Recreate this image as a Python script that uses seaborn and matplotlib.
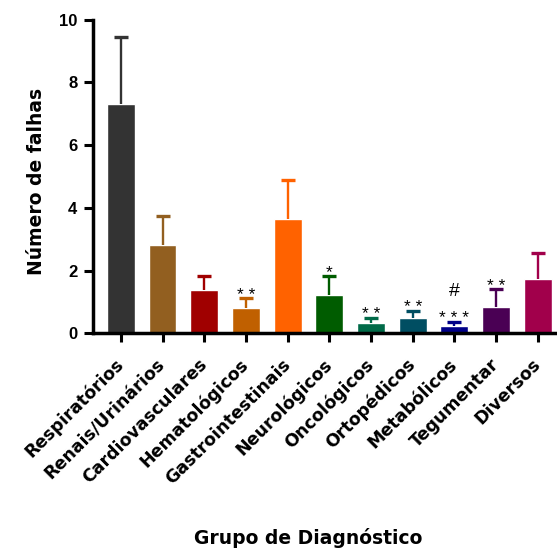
import matplotlib
matplotlib.use("Agg")
import matplotlib.pyplot as plt
import seaborn as sns
import numpy as np

# Diagnostic groups and their mean number of failures with upper SD
categories = ["Respiratórios", "Renais/Urinários", "Cardiovasculares", "Hematológicos",
              "Gastrointestinais", "Neurológicos", "Oncológicos", "Ortopédicos",
              "Metabólicos", "Tegumentar", "Diversos"]
means = [7.32, 2.80, 1.38, 0.81, 3.63, 1.22, 0.33, 0.48, 0.22, 0.85, 1.74]
sd = [2.13, 0.94, 0.44, 0.30, 1.24, 0.60, 0.16, 0.23, 0.14, 0.55, 0.82]
stars = ["", "", "", "* *", "", "*", "* *", "* *", "* * *", "* *", ""]
hashes = ["", "", "", "", "", "", "", "", "#", "", ""]
colors = ["#333333", "#925F20", "#A00000", "#C06000", "#FF6200", "#005C00",
          "#006A48", "#004E62", "#000088", "#4A0054", "#A1004B"]
yticks = [0, 2, 4, 6, 8, 10]

sns.set_style("ticks")
plt.rcParams["font.family"] = ["DejaVu Sans"]
for key in ("text.color", "axes.labelcolor", "xtick.color", "ytick.color",
            "axes.edgecolor"):
    plt.rcParams[key] = "black"

fig = plt.figure(figsize=(5.57, 5.48), dpi=100)
ax = fig.add_axes([0.1675, 0.3918, 0.8325, 0.5726])

sns.barplot(x=categories, y=means, hue=categories, palette=colors, legend=False,
            width=0.67, saturation=1, ax=ax, errorbar=None)

# upward-only error bars: stem from the bar top plus a single cap
for i, (m, s, c) in enumerate(zip(means, sd, colors)):
    top = m + s
    ax.vlines(i, m, top, colors=c, linewidth=1.7, zorder=3)
    ax.plot([i], [top], marker="_", markersize=10, markeredgewidth=2.4,
            color=c, zorder=3)
    if stars[i]:
        ax.annotate(stars[i], (i, top), xytext=(0, -1.0), textcoords="offset points",
                    ha="center", va="baseline", fontsize=12.5,
                    family="Liberation Sans", color="black")
    if hashes[i]:
        ax.annotate(hashes[i], (i, top), xytext=(0, 18.5), textcoords="offset points",
                    ha="center", va="baseline", fontsize=14,
                    family="Liberation Sans", color="black")

ax.set_xlim(-0.66, 10.46)
ax.set_ylim(0, 10)
ax.set_yticks(yticks)
ax.set_yticklabels([str(v) for v in yticks], family="Liberation Sans",
                   fontweight="bold", fontsize=12)

sns.despine(ax=ax)
for side in ("left", "bottom"):
    ax.spines[side].set_linewidth(2.5)
    ax.spines[side].set_color("black")
ax.tick_params(axis="both", width=2.2, length=6.5, color="black")
ax.tick_params(axis="y", pad=5)
ax.tick_params(axis="x", pad=14)

ax.set_xticks(range(len(categories)))
ax.set_xticklabels(categories, rotation=45, ha="right", va="center",
                   rotation_mode="anchor", fontweight="bold", fontsize=12.5)

ax.set_xlabel("Grupo de Diagnóstico", fontweight="bold", fontsize=13.5,
              ha="center", va="center")
ax.xaxis.set_label_coords(0.463, -0.652)
ax.set_ylabel("Número de falhas", fontweight="bold", fontsize=13.5,
              ha="center", va="center")
ax.yaxis.set_label_coords(-0.1225, 0.484)

fig.savefig("out.png", dpi=100)
